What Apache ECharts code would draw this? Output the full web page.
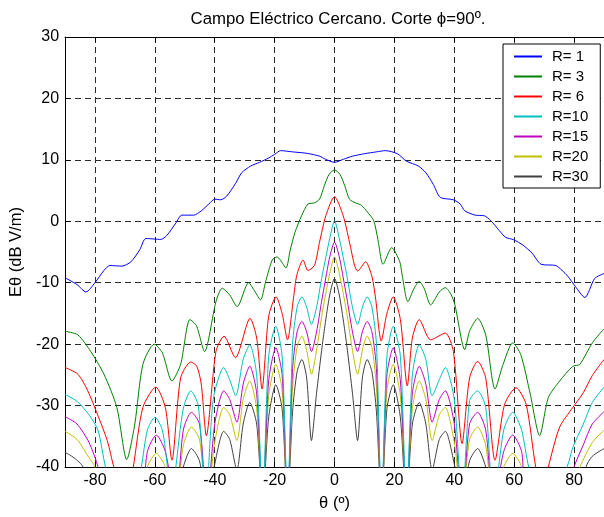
<!DOCTYPE html>
<html>
<head>
<meta charset="utf-8">
<script src="https://cdn.jsdelivr.net/npm/echarts@6/dist/echarts.min.js"></script>
<style>
html, body { margin: 0; padding: 0; background: #fff; }
#chart { width: 604px; height: 517px; }
</style>
</head>
<body>
<div id="chart"></div>
<script>
// Near electric field, phi = 90 deg cut: E-theta (dB V/m) versus theta (deg) for several distances R.
const xTicks = [-80, -60, -40, -20, 0, 20, 40, 60, 80];
const seriesNames = ['R= 1', 'R= 3', 'R= 6', 'R=10', 'R=15', 'R=20', 'R=30'];

const thetaR1 = [-90, -86, -83, -80, -77, -75, -71, -68, -65, -63, -58, -56, -53, -51, -47, -44.5, -42, -40, -38, -36, -33, -31, -28, -25, -22, -20, -18, -14, -9, -5, -3, 0, 3, 6, 10, 14, 17, 21, 24, 28, 30.5, 33, 35.3, 39.7, 42, 43.5, 47, 50, 52.2, 55, 57.1, 59.8, 63, 66, 69, 73.9, 76, 78, 80.4, 83.6, 86.9, 90];
const eR1 = [-9.2, -10.3, -11.5, -10.0, -8.0, -7.2, -7.3, -6.6, -4.6, -2.8, -2.95, -2.3, -0.3, 1.0, 1.0, 1.7, 2.8, 3.6, 3.5, 4.1, 6.2, 7.9, 9.0, 9.6, 10.3, 10.9, 11.5, 11.3, 11.05, 10.6, 10.1, 9.6, 10.1, 10.6, 11.0, 11.3, 11.5, 11.0, 9.8, 9.0, 7.9, 6.0, 3.9, 3.5, 2.8, 1.7, 1.0, 0.9, 0.1, -1.5, -2.6, -3.0, -3.9, -5.2, -7.0, -7.2, -8.0, -9.0, -10.6, -12.4, -9.3, -8.5];

const thetaR3 = [-90, -85.7, -81.4, -77, -72.7, -69.4, -66.7, -64, -60.2, -57.5, -54.3, -51.4, -48.3, -46.1, -43.4, -39.6, -37.5, -35, -32.5, -28.7, -26.5, -24.7, -23, -20.8, -19.2, -18.1, -16.2, -14.8, -13.2, -11, -8.9, -6.7, -5, -3.4, -1.8, 0, 1.8, 3.4, 5, 7, 9, 11, 13.1, 14.5, 16.2, 19.1, 21.8, 22.5, 24.5, 26.5, 28.3, 30, 32.1, 35, 37, 39, 40.2, 43.5, 45.1, 47.8, 50.5, 53.6, 56.3, 59.5, 62.2, 65.4, 68.5, 71.4, 75.2, 79.6, 81.9, 86.1, 90];
const eR3 = [-17.9, -18.5, -21.2, -24.9, -30.3, -38.8, -33.0, -23.3, -20.0, -21.4, -26.0, -23.3, -16.0, -17.0, -21.2, -13.1, -10.9, -12.0, -13.9, -10.0, -11.5, -12.8, -9.8, -6.3, -5.8, -6.3, -7.6, -4.7, -1.8, 0.9, 2.8, 3.0, 3.6, 5.8, 7.65, 8.35, 7.65, 5.8, 3.6, 3.0, 2.6, 1.5, 0.1, -3.0, -7.0, -4.3, -6.6, -8.5, -13.1, -11.0, -9.8, -11.0, -13.6, -11.5, -10.8, -12.0, -13.6, -20.9, -17.9, -15.8, -18.5, -27.3, -23.3, -19.8, -21.7, -28.2, -34.9, -28.7, -26.0, -23.6, -23.3, -19.8, -17.5];

const thetaR6 = [-90, -85.7, -82.4, -79.2, -75.9, -73.7, -71, -68.5, -67.2, -64, -59.7, -56.5, -54.3, -51.4, -48, -46, -44.5, -42.8, -39.6, -36.9, -33.1, -28.2, -26, -24.2, -22, -19.5, -17.5, -15.7, -13.7, -12.6, -10.5, -8.9, -6.7, -5, -2.9, 0, 2.9, 5, 6.7, 7.7, 10.4, 12.5, 13.7, 15.6, 17.5, 19.6, 22, 24.3, 26, 28.3, 32.1, 37, 39.7, 42.6, 45.1, 47.8, 50.5, 53.6, 56.8, 60.6, 64, 67.2, 69.5, 71.4, 75.2, 79.6, 83.1, 86.1, 90];
const eR6 = [-23.8, -24.9, -27.6, -31.4, -35.7, -40, -44, -43, -40, -30.3, -27.0, -30.3, -38.9, -25.5, -22.9, -23.6, -26.5, -34.9, -21.2, -18.7, -22.2, -15.8, -19.0, -27.3, -15.5, -12.3, -15.0, -19.3, -12.5, -8.8, -6.3, -8.0, -7.2, -3.4, 0.9, 4.0, 0.9, -3.4, -7.2, -8.1, -6.6, -9.0, -12.5, -19.5, -15.0, -12.3, -16.0, -26.8, -19.0, -16.0, -19.3, -18.2, -21.2, -36.2, -25.5, -22.8, -25.5, -38.9, -29.8, -27.1, -29.8, -40, -44, -40, -33.5, -30.3, -27.9, -25.1, -22.5];

const thetaR10 = [-90, -86, -82, -79, -76.5, -73, -67, -64.5, -62.5, -60, -57.5, -55.8, -54.5, -53, -50.5, -48, -45.5, -43, -40.5, -37, -35, -33, -30.5, -28.3, -26, -24, -22, -19.6, -17.5, -15.7, -14, -12.5, -10.9, -9.3, -7.7, -6, -4.3, -3.2, -1.6, 0, 1.6, 3.2, 4.3, 6, 7.7, 9.3, 10.9, 12.5, 14, 15.7, 17.5, 19.6, 22, 24, 26, 28.3, 30.5, 32.6, 35, 37, 40, 42.6, 45.1, 47.8, 50.5, 53.1, 56.5, 59.5, 62.5, 64.9, 70, 77.6, 79.6, 83.1, 86.1, 90];
const eR10 = [-28.2, -29.3, -31.5, -34, -40, -46, -46, -40, -34, -31.9, -34, -40, -46, -40, -30.5, -27.6, -30, -46, -29, -23.8, -25.8, -28.4, -22.5, -20.1, -25, -46, -22, -17.1, -22, -46, -20, -14, -12.3, -14, -16.8, -14, -9.3, -6.6, -2.8, 0.1, -2.8, -6.6, -9.3, -14, -16.8, -14, -12.3, -14, -20, -46, -22, -17.1, -22, -46, -25, -20.1, -22.5, -28.4, -25.8, -23.8, -29, -46, -29.2, -27.6, -30.3, -46, -34, -31.1, -34, -40, -46, -40, -36.8, -33, -29.5, -27];

const thetaR15 = [-90, -86, -82, -79, -77, -66, -64.5, -62.5, -59.5, -56.5, -53.1, -50.5, -47.8, -45.1, -42.6, -40, -37, -35, -32.6, -30.5, -28.3, -26, -24, -22, -19.6, -17.5, -15.7, -14, -12.5, -10.9, -9.3, -7.7, -6, -4.3, -3.2, -1.6, 0, 1.6, 3.2, 4.3, 6, 7.7, 9.3, 10.9, 12.5, 14, 15.7, 17.5, 19.6, 22, 24, 26, 28.3, 30.5, 32.6, 35, 37, 40, 42.6, 45.1, 47.8, 50.5, 53.1, 56.5, 59.5, 62.5, 64.5, 77, 80, 83, 86.1, 90];
const eR15 = [-31.8, -33, -36, -40, -46, -46, -46, -37.5, -34.8, -37.5, -46, -34, -31.1, -33, -46, -33, -27.6, -29, -32.7, -26.5, -23.6, -28, -46, -26, -20.6, -25, -46, -24, -18, -16.3, -18, -21.2, -18, -13, -10, -5.8, -3.4, -5.8, -10, -13, -18, -21.2, -18, -16.3, -18, -24, -46, -25, -20.6, -26, -46, -28, -23.6, -26.5, -32.7, -29, -27.6, -33, -46, -33, -31.1, -34, -46, -37.5, -34.8, -37.5, -46, -46, -40, -36.5, -33, -31];

const thetaR20 = [-90, -86, -82, -80, -78, -64, -62.5, -59.5, -56.5, -53.1, -50.5, -47.8, -45.1, -42.6, -40, -37, -35, -32.6, -30.5, -28.3, -26, -24, -22, -19.6, -17.5, -15.7, -14, -12.5, -10.9, -9.3, -7.7, -6, -4.3, -3.2, -1.6, 0, 1.6, 3.2, 4.3, 6, 7.7, 9.3, 10.9, 12.5, 14, 15.7, 17.5, 19.6, 22, 24, 26, 28.3, 30.5, 32.6, 35, 37, 40, 42.6, 45.1, 47.8, 50.5, 53.1, 56.5, 59.5, 62.5, 64, 78, 82, 86.1, 90];
const eR20 = [-34.2, -35.5, -38.5, -40, -46, -46, -40, -37.8, -40, -46, -36.5, -33.5, -35.5, -46, -36, -30.3, -31.5, -35.7, -29, -26, -30.5, -46, -28.5, -23.3, -27.5, -46, -27, -20.5, -18.7, -21, -24.9, -21, -15.5, -12.5, -8.5, -5.8, -8.5, -12.5, -15.5, -21, -24.9, -21, -18.7, -20.5, -27, -46, -27.5, -23.3, -28.5, -46, -30.5, -26, -29, -35.7, -31.5, -30.3, -36, -46, -35.5, -33.5, -36.5, -46, -40, -37.8, -40, -46, -46, -40, -36, -34];

const thetaR30 = [-90, -87, -84, -82, -64, -62.5, -59.5, -56.5, -53.1, -50.5, -47.8, -45.1, -42.6, -40, -37, -35, -32.6, -30.5, -28.3, -26, -24, -22, -19.6, -17.5, -15.7, -14, -12.5, -10.9, -9.3, -7.7, -6, -4.3, -3.2, -1.6, 0, 1.6, 3.2, 4.3, 6, 7.7, 9.3, 10.9, 12.5, 14, 15.7, 17.5, 19.6, 22, 24, 26, 28.3, 30.5, 32.6, 35, 37, 40, 42.6, 45.1, 47.8, 50.5, 53.1, 56.5, 59.5, 62.5, 64, 82, 84, 86, 90];
const eR30 = [-37.6, -38.5, -40, -46, -46, -43, -41.5, -43, -46, -40, -37.0, -39, -46, -39.5, -34.2, -35.5, -40.5, -33, -29.5, -33, -46, -32, -26.6, -30.5, -46, -31, -24.5, -22.5, -25.5, -35.7, -28, -21, -17, -12, -9.3, -12, -17, -21, -28, -35.7, -25.5, -22.5, -24.5, -31, -46, -30.5, -26.6, -32, -46, -33, -29.5, -33, -40.5, -35.5, -34.2, -39.5, -46, -39, -37.0, -40, -46, -43, -41.5, -43, -46, -46, -40, -38.3, -37];

const thetaSets = [thetaR1, thetaR3, thetaR6, thetaR10, thetaR15, thetaR20, thetaR30];
const valueSets = [eR1, eR3, eR6, eR10, eR15, eR20, eR30];
const lineColors = ['#0000ff', '#008000', '#ff0000', '#00bfbf', '#bf00bf', '#bfbf00', '#404040'];

const FONT = '"Liberation Sans", Arial, Helvetica, sans-serif';

const chart = echarts.init(document.getElementById('chart'), null, { renderer: 'canvas' });

const gridLine = { show: true, lineStyle: { color: '#2a2a2a', width: 1, type: [6, 4] } };

const option = {
  backgroundColor: '#ffffff',
  animation: false,
  title: {
    text: 'Campo Eléctrico Cercano. Corte ϕ=90º.',
    left: 333,
    top: 6,
    textAlign: 'center',
    textStyle: { fontFamily: FONT, fontSize: 16.8, fontWeight: 'normal', color: '#000' }
  },
  grid: { left: 60, top: 37, width: 553, height: 433, containLabel: false },
  legend: {
    orient: 'vertical',
    left: 503,
    top: 44,
    padding: [5, 12, 4, 10],
    itemWidth: 28,
    itemHeight: 14,
    itemGap: 5,
    backgroundColor: '#ffffff',
    borderColor: '#000',
    borderWidth: 1,
    borderRadius: 0,
    itemStyle: { opacity: 0, borderWidth: 0 },
    textStyle: { fontFamily: FONT, fontSize: 15, color: '#000', padding: [0, 0, 0, 5] },
    data: seriesNames
  },
  xAxis: [
    {
      type: 'value', position: 'bottom', min: -90, max: 90,
      name: 'θ (º)', nameLocation: 'middle', nameGap: 28,
      nameTextStyle: { fontFamily: FONT, fontSize: 16.5, color: '#000' },
      axisLine: { show: true, onZero: false, lineStyle: { color: '#000', width: 1 } },
      axisTick: { show: true, inside: true, length: 5, customValues: xTicks, lineStyle: { color: '#000' } },
      axisLabel: { show: true, customValues: xTicks, margin: 6, fontFamily: FONT, fontSize: 16, color: '#000' },
      splitLine: gridLine
    },
    {
      type: 'value', position: 'top', min: -90, max: 90,
      axisLine: { show: true, onZero: false, lineStyle: { color: '#000', width: 1 } },
      axisTick: { show: true, inside: true, length: 5, customValues: xTicks, lineStyle: { color: '#000' } },
      axisLabel: { show: false },
      splitLine: { show: false }
    }
  ],
  yAxis: [
    {
      type: 'value', position: 'left', min: -40, max: 30, interval: 10,
      name: 'Eθ (dB V/m)', nameLocation: 'middle', nameGap: 35,
      nameTextStyle: { fontFamily: FONT, fontSize: 16.5, color: '#000' },
      axisLine: { show: true, onZero: false, lineStyle: { color: '#000', width: 1 } },
      axisTick: { show: true, inside: true, length: 5, lineStyle: { color: '#000' } },
      axisLabel: { show: true, margin: 6, fontFamily: FONT, fontSize: 16, color: '#000' },
      splitLine: gridLine
    }
  ],
  series: seriesNames.map((name, k) => ({
    name: name,
    type: 'line',
    xAxisIndex: 0,
    yAxisIndex: 0,
    data: thetaSets[k].map((t, i) => [t, valueSets[k][i]]),
    symbol: 'none',
    showSymbol: false,
    smooth: 0.25,
    clip: true,
    lineStyle: { color: lineColors[k], width: 1 },
    itemStyle: { color: lineColors[k] },
    z: 10 - k
  }))
};

chart.setOption(option);
</script>
</body>
</html>
